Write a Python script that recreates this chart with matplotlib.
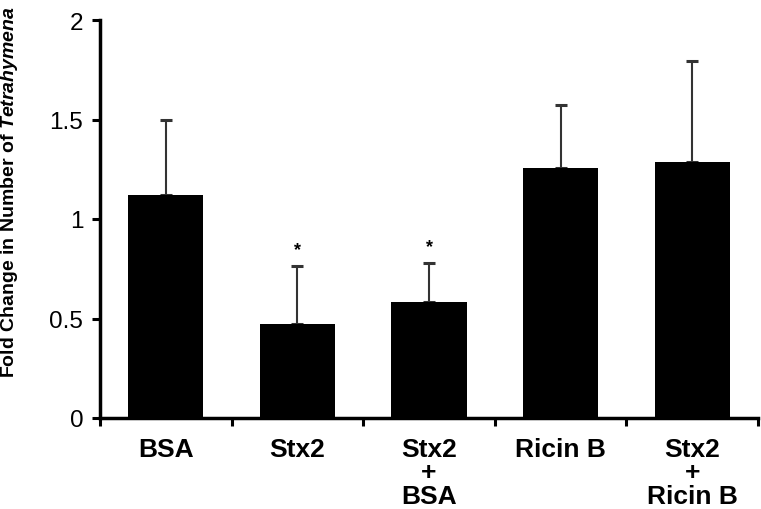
import matplotlib
matplotlib.use("Agg")
import matplotlib.pyplot as plt
import numpy as np

plt.rcParams['font.family'] = ['Liberation Sans', 'DejaVu Sans']
plt.rcParams['mathtext.fontset'] = 'custom'
plt.rcParams['mathtext.bfit'] = 'Liberation Sans:italic:bold'

categories = ["BSA", "Stx2", "Stx2\n+\nBSA", "Ricin B", "Stx2\n+\nRicin B"]
means = [1.12, 0.47, 0.585, 1.255, 1.285]
errors = [0.375, 0.295, 0.195, 0.32, 0.51]
significant = [False, True, True, False, False]

fig = plt.figure(figsize=(7.61, 5.10), dpi=100)
ax = fig.add_axes([100 / 761, 91 / 510, 658 / 761, 398 / 510])

x = np.arange(len(categories))
ax.bar(x, means, width=0.57, color="black", zorder=2)
ax.errorbar(x, means, yerr=[np.zeros(len(means)), errors], fmt="none",
            ecolor="#333333", elinewidth=1.5, capsize=4.5, capthick=2.2, zorder=1)

for xi, m, e, s in zip(x, means, errors, significant):
    if s:
        ax.text(xi, m + e + 0.08, "*", ha="center", va="center",
                fontsize=13, fontweight="bold")

ax.set_xlim(-0.5, len(categories) - 0.5)
ax.set_ylim(0, 2)
ax.set_yticks([0, 0.5, 1, 1.5, 2])
ax.set_yticklabels(["0", "0.5", "1", "1.5", "2"])

ax.set_xticks(x)
ax.set_xticklabels(categories, fontsize=19, fontweight="bold", va="top")
for t in ax.get_xticklabels():
    t.set_linespacing(0.95)
ax.set_xticks(np.arange(len(categories) + 1) - 0.5, minor=True)
ax.tick_params(axis="x", which="major", length=0, pad=14)
ax.tick_params(axis="x", which="minor", length=6, width=2.2, direction="out")
ax.tick_params(axis="y", length=6, width=2.2, direction="out", labelsize=17.5, pad=6)

for side in ["top", "right"]:
    ax.spines[side].set_visible(False)
for side in ["left", "bottom"]:
    ax.spines[side].set_linewidth(2.5)

ax.set_ylabel(r"Fold Change in Number of $\bfit{Tetrahymena}$", fontsize=14,
              fontweight="bold")
ax.yaxis.set_label_coords(-0.1216, 0.57)

fig.savefig("out.png", dpi=100)
